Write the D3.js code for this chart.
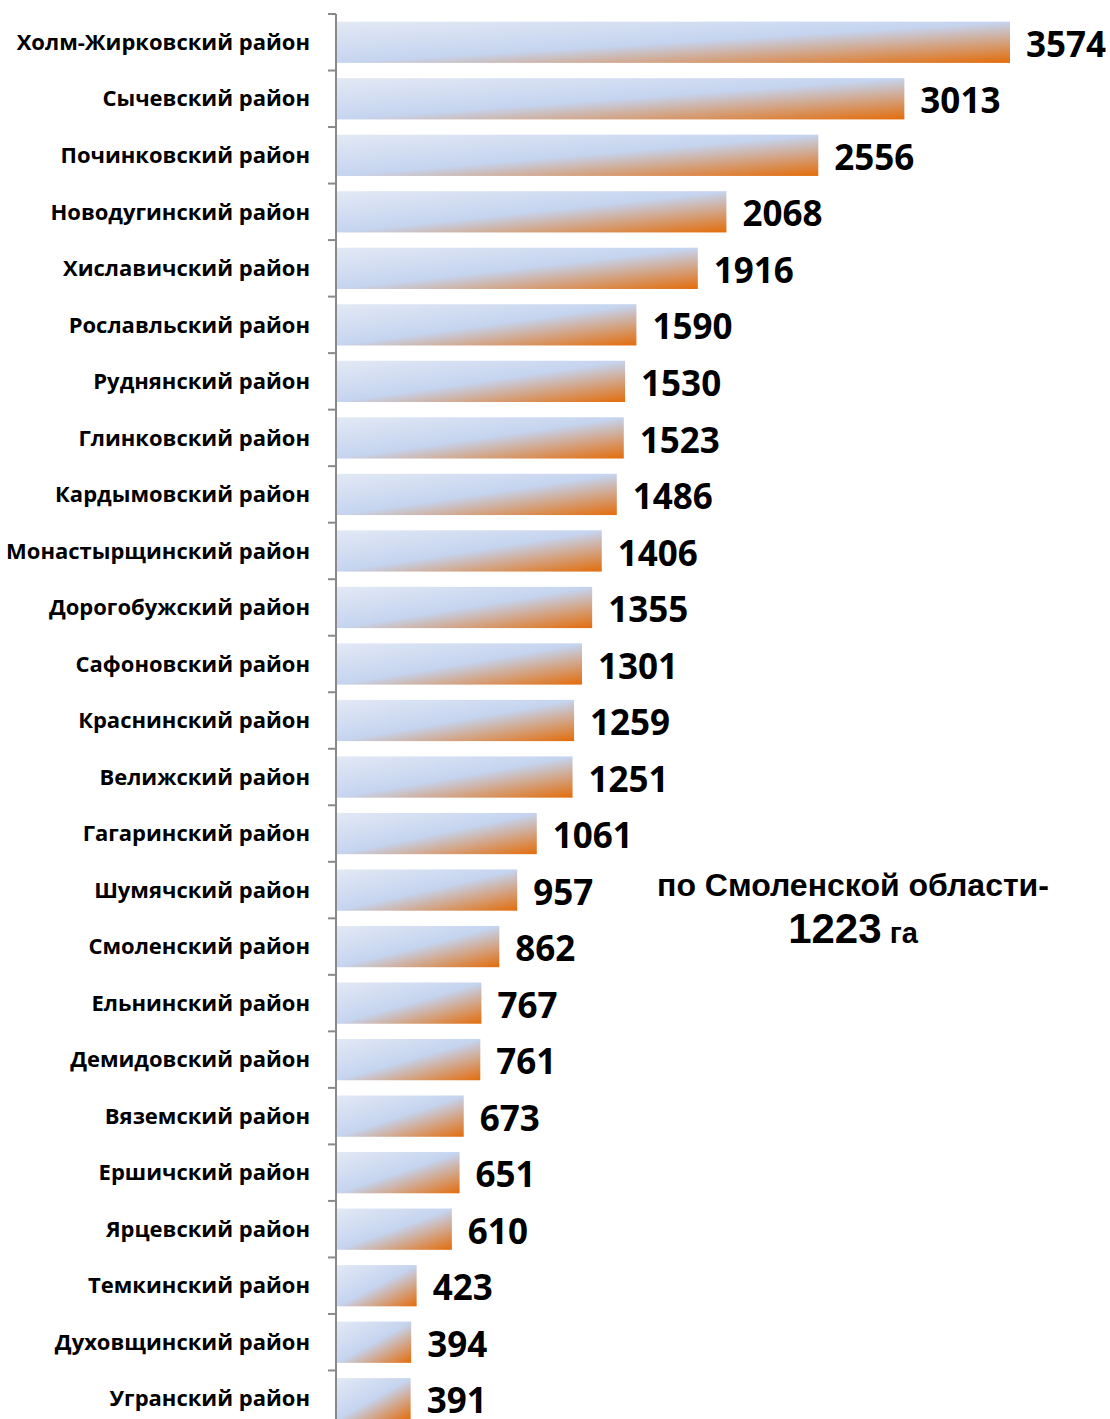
<!DOCTYPE html>
<html>
<head>
<meta charset="utf-8">
<script src="https://cdn.jsdelivr.net/npm/d3@7"></script>
<style>
  body { margin: 0; background: #fff; }
  svg { display: block; }
</style>
</head>
<body>
<div id="chart"></div>
<script>
/**
 * DATA
 * */
const districts = [
  "Холм-Жирковский район", "Сычевский район", "Починковский район", "Новодугинский район",
  "Хиславичский район", "Рославльский район", "Руднянский район", "Глинковский район",
  "Кардымовский район", "Монастырщинский район", "Дорогобужский район", "Сафоновский район",
  "Краснинский район", "Велижский район", "Гагаринский район", "Шумячский район",
  "Смоленский район", "Ельнинский район", "Демидовский район", "Вяземский район",
  "Ершичский район", "Ярцевский район", "Темкинский район", "Духовщинский район",
  "Угранский район"
];
const values = [
  3574, 3013, 2556, 2068, 1916, 1590, 1530, 1523, 1486, 1406, 1355, 1301,
  1259, 1251, 1061, 957, 862, 767, 761, 673, 651, 610, 423, 394, 391
];
const regionLabel = "по Смоленской области-";
const regionValue = "1223";
const regionUnit = "га";

/**
 * CONSTANTS
 * */
const width = 1110,
  height = 1419,
  margin = { top: 14, bottom: -8, left: 336, right: 100 };

const svg = d3.select("#chart")
  .append("svg")
  .attr("width", width)
  .attr("height", height);

// diagonal gradient, like the office fill
const defs = svg.append("defs");
const grad = defs.append("linearGradient")
  .attr("id", "barGrad")
  .attr("x1", 0).attr("y1", 0)
  .attr("x2", 1).attr("y2", 1);
grad.append("stop").attr("offset", "0%").attr("stop-color", "#e3e9f5");
grad.append("stop").attr("offset", "50%").attr("stop-color", "#c5d4ef");
grad.append("stop").attr("offset", "100%").attr("stop-color", "#e36c0a");

const y = d3.scaleBand()
  .domain(districts)
  .range([margin.top, height - margin.bottom])
  .paddingInner(0.27)
  .paddingOuter(0.135);

const x = d3.scaleLinear()
  .domain([0, 3574])
  .range([margin.left + 1, 1010]);

// bars
svg.selectAll("rect.bar")
  .data(values)
  .join("rect")
  .attr("class", "bar")
  .attr("x", x(0))
  .attr("y", (d, i) => y(districts[i]))
  .attr("width", d => x(d) - x(0))
  .attr("height", y.bandwidth())
  .attr("fill", "url(#barGrad)");

// axis with ticks at band boundaries
const axisG = svg.append("g").attr("class", "axis");
const step = y.step();
const bounds = districts.map(d => y(d) - y.paddingInner() * step / 2);
axisG.append("line")
  .attr("x1", margin.left).attr("x2", margin.left)
  .attr("y1", bounds[0]).attr("y2", height)
  .attr("stroke", "#898989").attr("stroke-width", 2);
axisG.selectAll("line.tick")
  .data(bounds)
  .join("line")
  .attr("class", "tick")
  .attr("x1", margin.left - 8).attr("x2", margin.left)
  .attr("y1", d => d).attr("y2", d => d)
  .attr("stroke", "#898989").attr("stroke-width", 2);

// category labels
svg.selectAll("text.cat")
  .data(districts)
  .join("text")
  .attr("class", "cat")
  .attr("x", 310)
  .attr("y", d => y(d) + y.bandwidth() / 2)
  .attr("dy", "0.35em")
  .attr("text-anchor", "end")
  .style("font-family", "'Open Sans', sans-serif")
  .style("font-weight", 700)
  .style("font-size", "22px")
  .attr("fill", "#000")
  .text(d => d);

// value labels
svg.selectAll("text.val")
  .data(values)
  .join("text")
  .attr("class", "val")
  .attr("x", d => x(d) + 16)
  .attr("y", (d, i) => y(districts[i]) + y.bandwidth() / 2 + 2)
  .attr("dy", "0.36em")
  .style("font-family", "'Open Sans', sans-serif")
  .style("font-weight", 700)
  .style("font-size", "35px")
  .attr("fill", "#000")
  .text(d => d);

// annotation
const note = svg.append("g")
  .style("font-family", "'Liberation Sans', Arial, sans-serif")
  .style("font-weight", 700)
  .attr("fill", "#000");
note.append("text")
  .attr("x", 853).attr("y", 896)
  .attr("text-anchor", "middle")
  .style("font-size", "32px")
  .text(regionLabel);
const line2 = note.append("text")
  .attr("x", 853).attr("y", 943)
  .attr("text-anchor", "middle");
line2.append("tspan").style("font-size", "42px").text(regionValue);
line2.append("tspan").style("font-size", "29px").text(" " + regionUnit);
</script>
</body>
</html>
